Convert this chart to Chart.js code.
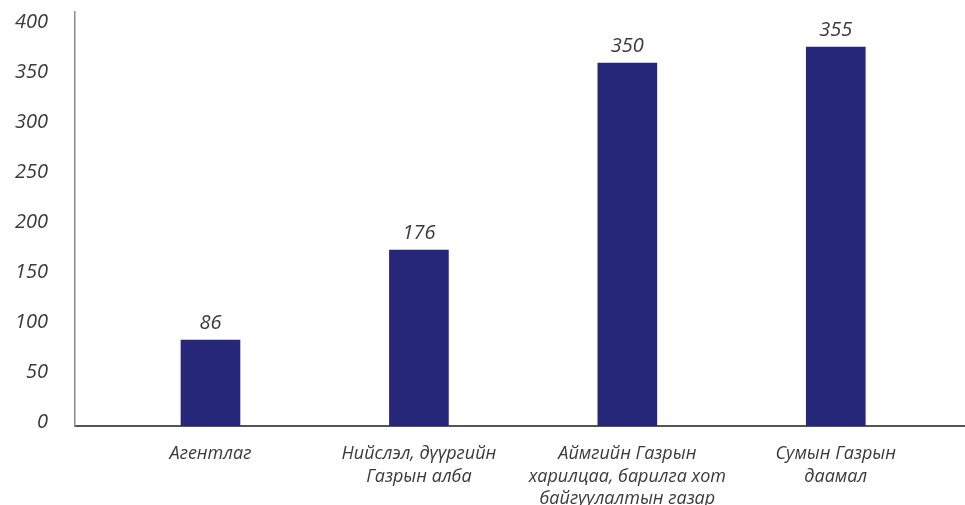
<!DOCTYPE html>
<html>
<head>
<meta charset="utf-8">
<script src="https://cdn.jsdelivr.net/npm/chart.js@4.4.1/dist/chart.umd.min.js"></script>
<style>
  html, body { margin: 0; padding: 0; background: #fff; }
  #wrap { width: 965px; height: 505px; }
</style>
</head>
<body>
<div id="wrap"><canvas id="chart"></canvas></div>
<script>
// categories (multi-line as shown under the axis)
const categories = [
  ['Агентлаг'],
  ['Нийслэл, дүүргийн', 'Газрын алба'],
  ['Аймгийн Газрын', 'харилцаа, барилга хот', 'байгуулалтын газар'],
  ['Сумын Газрын', 'даамал']
];
// values printed above the bars
const values = [86, 176, 350, 355];
// bar heights as drawn in the picture (the two right bars stand taller than their labels)
const barHeights = [86, 176, 363, 379];
const yTicks = [0, 50, 100, 150, 200, 250, 300, 350, 400];

const barColor = '#27277a';
const textColor = '#3a3a3a';
const fontFamily = '"Open Sans", "Noto Sans", sans-serif';

const valueLabels = {
  id: 'valueLabels',
  afterDatasetsDraw(chart) {
    const ctx = chart.ctx;
    const meta = chart.getDatasetMeta(0);
    ctx.save();
    ctx.font = 'italic 20px ' + fontFamily;
    ctx.fillStyle = textColor;
    ctx.textAlign = 'center';
    ctx.textBaseline = 'alphabetic';
    meta.data.forEach((bar, i) => {
      ctx.fillText(String(values[i]), bar.x, bar.y - 11);
    });
    ctx.restore();
  }
};

const ctx = document.getElementById('chart').getContext('2d');
new Chart(ctx, {
  type: 'bar',
  data: {
    datasets: [{
      data: barHeights.map((v, i) => ({ x: i, y: v })),
      backgroundColor: barColor,
      barThickness: 59
    }]
  },
  options: {
    responsive: true,
    maintainAspectRatio: false,
    animation: false,
    layout: { padding: { top: 12, right: 0, bottom: 0, left: 0 } },
    plugins: { legend: { display: false }, tooltip: { enabled: false } },
    scales: {
      x: {
        type: 'linear',
        min: -0.65,
        max: 3.62,
        offset: false,
        bounds: 'data',
        grid: { display: false, drawTicks: false, offset: false },
        border: { display: true, color: '#555555', width: 2 },
        afterBuildTicks: scale => { scale.ticks = categories.map((c, i) => ({ value: i })); },
        afterFit: scale => {
          scale.height = 79;
          scale.paddingLeft = 0; scale.paddingRight = 0;
          scale.paddingTop = 0; scale.paddingBottom = 0;
        },
        ticks: {
          autoSkip: false,
          maxRotation: 0,
          padding: 17,
          color: textColor,
          font: { family: fontFamily, size: 18, style: 'italic', lineHeight: 1.25 },
          callback: v => categories[v]
        }
      },
      y: {
        min: 0,
        max: 414,
        bounds: 'data',
        grid: { display: false, drawTicks: false },
        border: { display: true, color: '#8a8a8a', width: 1.5 },
        afterBuildTicks: scale => { scale.ticks = yTicks.map(v => ({ value: v })); },
        afterFit: scale => {
          scale.width = 75;
          scale.paddingTop = 0; scale.paddingBottom = 0;
          scale.paddingLeft = 0; scale.paddingRight = 0;
        },
        ticks: {
          padding: 27,
          labelOffset: -4,
          color: textColor,
          font: { family: fontFamily, size: 20, style: 'italic' }
        }
      }
    }
  },
  plugins: [valueLabels]
});
</script>
</body>
</html>
